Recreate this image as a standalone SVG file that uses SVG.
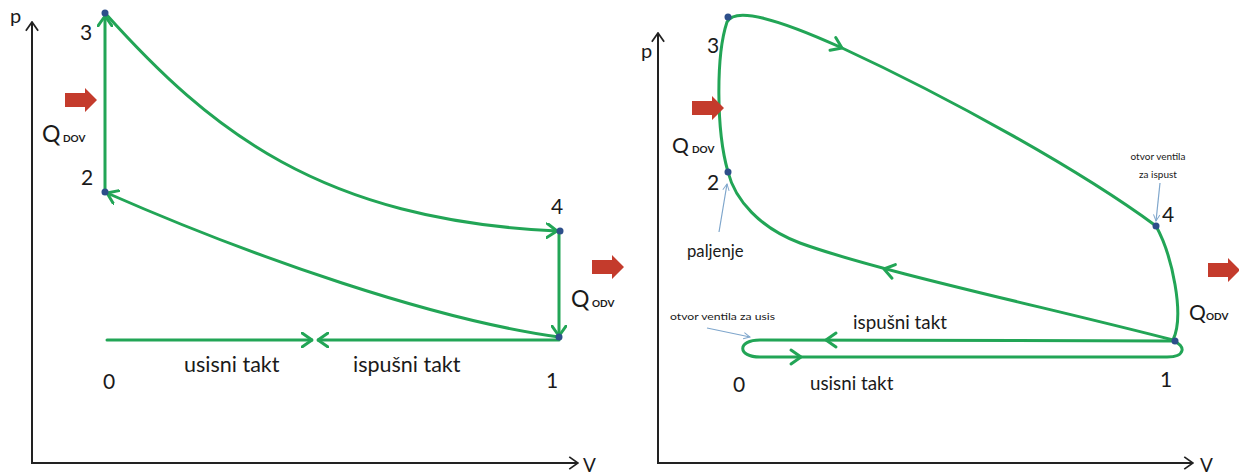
<svg xmlns="http://www.w3.org/2000/svg" width="1239" height="475" viewBox="0 0 1239 475">
<style>
.axis{stroke:#222;stroke-width:2;fill:none}
.cyc{stroke:#22a556;stroke-width:3;fill:none;stroke-linecap:round;stroke-linejoin:round}
.ptr{stroke:#7fa6cc;stroke-width:1.2;fill:none}
.dot{fill:#2d4f8a}
.t{font-family:Lato,"Liberation Sans",sans-serif;fill:#1a1a1a}
.num{font-size:21px}
.sm{font-size:10px}
.q{font-size:23px}
.sub{font-size:10px;font-weight:bold}
.heat{fill:#c43b2c}
</style>
<defs>
<marker id="ga" viewBox="0 0 12 16" refX="11" refY="8" markerWidth="12" markerHeight="16" markerUnits="userSpaceOnUse" orient="auto">
<path d="M1,1 L11,8 L1,15" stroke="#22a556" stroke-width="3" fill="none" stroke-linecap="round" stroke-linejoin="round"/>
</marker>
<marker id="ka" viewBox="0 0 12 16" refX="11" refY="8" markerWidth="11" markerHeight="14" markerUnits="userSpaceOnUse" orient="auto">
<path d="M1,1 L11,8 L1,15" stroke="#222" stroke-width="2" fill="none"/>
</marker>
<marker id="ba" viewBox="0 0 10 10" refX="9" refY="5" markerWidth="8" markerHeight="8" markerUnits="userSpaceOnUse" orient="auto">
<path d="M1,1 L9,5 L1,9" stroke="#7fa6cc" stroke-width="1.2" fill="none"/>
</marker>
<path id="chev" d="M-10,-7 L0,0 L-10,7" stroke="#22a556" stroke-width="3" fill="none" stroke-linecap="round" stroke-linejoin="round"/>
<path id="heatArrow" d="M0,-7 L20,-7 L20,-12 L32,0 L20,12 L20,7 L0,7 Z"/>
</defs>

<!-- LEFT DIAGRAM -->
<g id="left-axes">
<line class="axis" x1="32" y1="463" x2="32" y2="22" marker-end="url(#ka)"/>
<line class="axis" x1="31" y1="463" x2="578" y2="463" marker-end="url(#ka)"/>
<text class="t" x="10" y="23" font-size="20">p</text>
<text class="t" x="583" y="472" font-size="19">V</text>
</g>

<g id="left-connectors">
<path class="cyc" d="M105,192 L105,16" marker-end="url(#ga)"/>
<path class="cyc" d="M105,13 C210,130 320,220 557,231" marker-end="url(#ga)"/>
<path class="cyc" d="M559,232 L559,336" marker-end="url(#ga)"/>
<path class="cyc" d="M559,337 C435,320 255,258 107,193" marker-end="url(#ga)"/>
<path class="cyc" d="M107,340 L312,340" marker-end="url(#ga)"/>
<path class="cyc" d="M559,340 L318,340" marker-end="url(#ga)"/>
</g>

<g id="left-node-3"><circle class="dot" cx="105" cy="13" r="3.5"/><text class="t num" x="80" y="40">3</text></g>
<g id="left-node-2"><circle class="dot" cx="105" cy="192" r="3.5"/><text class="t num" x="81" y="185">2</text></g>
<g id="left-node-4"><circle class="dot" cx="560" cy="231" r="3.5"/><text class="t num" x="551" y="214">4</text></g>
<g id="left-node-1"><circle class="dot" cx="559" cy="337" r="3.5"/><text class="t num" x="546" y="388">1</text></g>
<g id="left-node-0"><text class="t num" x="103" y="389">0</text></g>

<g id="left-labels">
<text class="t" x="184" y="372" font-size="21.5">usisni takt</text>
<text class="t" x="353" y="372" font-size="21.5">ispušni takt</text>
</g>

<g id="left-qdov">
<use href="#heatArrow" class="heat" x="65" y="100"/>
<text class="t q" x="42" y="142">Q</text><text class="t sub" x="63" y="142">DOV</text>
</g>
<g id="left-qodv">
<use href="#heatArrow" class="heat" x="592" y="267"/>
<text class="t q" x="571" y="307">Q</text><text class="t sub" x="592" y="307">ODV</text>
</g>

<!-- RIGHT DIAGRAM -->
<g id="right-axes">
<line class="axis" x1="658" y1="463" x2="658" y2="33" marker-end="url(#ka)"/>
<line class="axis" x1="657" y1="463" x2="1193" y2="463" marker-end="url(#ka)"/>
<text class="t" x="641" y="58" font-size="20">p</text>
<text class="t" x="1200" y="472" font-size="19">V</text>
</g>

<g id="right-connectors">
<path class="cyc" d="M1173,340 C1050,308 880,272 800,243 C760,228 735,200 728,172 C716,130 716,55 727,22 C735,6 780,20 840,47 C950,98 1080,170 1156,226 C1172,255 1185,315 1173,340 Z"/>
<path class="cyc" d="M1173,341 L760,340 C737,340 737,357 760,357 L1167,357 C1186,357 1186,345 1173,341"/>
<use href="#chev" transform="translate(842,48) rotate(24)"/>
<use href="#chev" transform="translate(884,269) rotate(194)"/>
<use href="#chev" transform="translate(826,340) rotate(180)"/>
<use href="#chev" transform="translate(801,357)"/>
<path class="ptr" d="M719,232 L727,184" marker-end="url(#ba)"/>
<path class="ptr" d="M1160,183 L1156,221" marker-end="url(#ba)"/>
<path class="ptr" d="M707,328 L750,337" marker-end="url(#ba)"/>
</g>

<g id="right-node-3"><circle class="dot" cx="728" cy="17" r="3.5"/><text class="t num" x="707" y="53">3</text></g>
<g id="right-node-2"><circle class="dot" cx="728" cy="172" r="3.5"/><text class="t num" x="707" y="190">2</text></g>
<g id="right-node-4"><circle class="dot" cx="1156" cy="226" r="3.5"/><text class="t num" x="1162" y="222">4</text></g>
<g id="right-node-1"><circle class="dot" cx="1175" cy="341" r="3.5"/><text class="t num" x="1160" y="387">1</text></g>
<g id="right-node-0"><text class="t num" x="733" y="392">0</text></g>

<g id="right-labels">
<text class="t" x="687" y="257" font-size="16.7">paljenje</text>
<text class="t sm" x="1158" y="160" text-anchor="middle">otvor ventila</text>
<text class="t sm" x="1158" y="178" text-anchor="middle">za ispust</text>
<text class="t sm" x="670" y="320" textLength="105" lengthAdjust="spacingAndGlyphs">otvor ventila za usis</text>
<text class="t" x="853" y="329" font-size="18.8">ispušni takt</text>
<text class="t" x="810" y="390" font-size="18.8">usisni takt</text>
</g>

<g id="right-qdov">
<use href="#heatArrow" class="heat" x="692" y="108"/>
<text class="t" x="672" y="153" font-size="21">Q</text><text class="t sub" x="692" y="153">DOV</text>
</g>
<g id="right-qodv">
<use href="#heatArrow" class="heat" x="1208" y="270"/>
<text class="t" x="1189" y="320" font-size="21">Q</text><text class="t sub" x="1206" y="320">ODV</text>
</g>
</svg>
